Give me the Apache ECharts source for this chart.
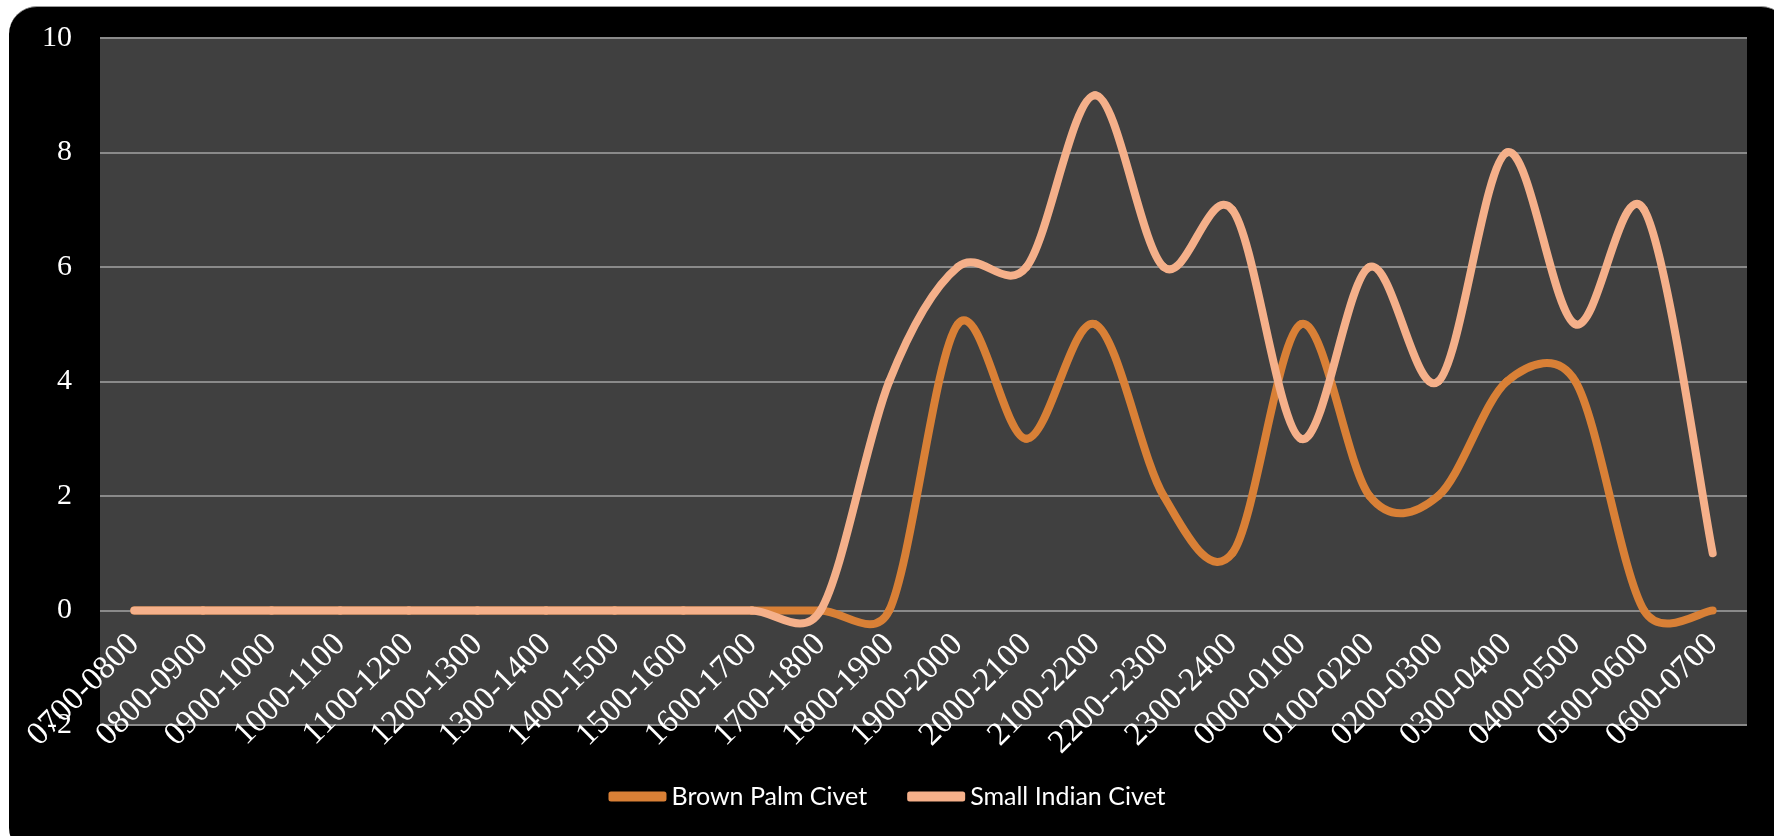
<!DOCTYPE html>
<html>
<head>
<meta charset="utf-8">
<script src="https://cdn.jsdelivr.net/npm/echarts@6/dist/echarts.min.js"></script>
<style>
  html, body { margin: 0; padding: 0; background: #ffffff; }
  #panel {
    position: absolute; left: 9px; top: 6px; width: 1780px; height: 850px;
    background: #000000; border-radius: 28px; border-top: 1px solid #9a9a9a;
    box-sizing: border-box;
  }
  #chart { position: absolute; left: 0; top: 0; width: 1774px; height: 836px; }
</style>
</head>
<body>
<div id="panel"></div>
<div id="chart"></div>
<script>
// Hourly activity counts of two civet species
const hours = [
  '0700-0800', '0800-0900', '0900-1000', '1000-1100', '1100-1200', '1200-1300',
  '1300-1400', '1400-1500', '1500-1600', '1600-1700', '1700-1800', '1800-1900',
  '1900-2000', '2000-2100', '2100-2200', '2200--2300', '2300-2400', '0000-0100',
  '0100-0200', '0200-0300', '0300-0400', '0400-0500', '0500-0600', '0600-0700'
];
const brownPalmCivet = [0, 0, 0, 0, 0, 0, 0, 0, 0, 0, 0, 0, 5, 3, 5, 2, 1, 5, 2, 2, 4, 4, 0, 0];
const smallIndianCivet = [0, 0, 0, 0, 0, 0, 0, 0, 0, 0, 0, 4, 6, 6, 9, 6, 7, 3, 6, 4, 8, 5, 7, 1];
const yTicks = { min: -2, max: 10, interval: 2 };

const serif = '"Liberation Serif", "Times New Roman", serif';
const LINE_WIDTH = 8;

// plot box
const GRID = { left: 100, right: 27, top: 38, bottom: 111 };
const CHART_H = 836;
// the category labels hang from the zero line rather than the bottom of the plot
const plotH = CHART_H - GRID.top - GRID.bottom;
const zeroOffset = -plotH * (0 - yTicks.min) / (yTicks.max - yTicks.min);

const chart = echarts.init(document.getElementById('chart'), null, { renderer: 'canvas' });

// Smoothed line: cubic Bezier segments whose handles follow the neighbouring
// points (1/6 of the chord), shortened to half the segment when they would be too long.
function smoothSegments(pts) {
  const n = pts.length;
  const segs = [];
  const dist = (a, b) => Math.hypot(b[0] - a[0], b[1] - a[1]);
  for (let i = 0; i < n - 1; i++) {
    const p0 = pts[Math.max(i - 1, 0)];
    const p1 = pts[i];
    const p2 = pts[i + 1];
    const p3 = pts[Math.min(i + 2, n - 1)];
    const d02 = dist(p0, p2), d12 = dist(p1, p2), d13 = dist(p1, p3);
    const f1 = d02 === 0 ? 0 : (d02 / 6 < d12 / 2 ? 1 / 6 : d12 / (2 * d02));
    const f2 = d13 === 0 ? 0 : (d13 / 6 < d12 / 2 ? 1 / 6 : d12 / (2 * d13));
    segs.push({
      x1: p1[0], y1: p1[1],
      cpx1: p1[0] + f1 * (p2[0] - p0[0]), cpy1: p1[1] + f1 * (p2[1] - p0[1]),
      cpx2: p2[0] - f2 * (p3[0] - p1[0]), cpy2: p2[1] - f2 * (p3[1] - p1[1]),
      x2: p2[0], y2: p2[1]
    });
  }
  return segs;
}

function curveSeries(name, values, color) {
  return {
    name: name,
    type: 'custom',
    coordinateSystem: 'cartesian2d',
    data: values.map((v, i) => [i, v]),
    encode: { x: 0, y: 1 },
    itemStyle: { color: color },
    renderItem: function (params, api) {
      if (params.dataIndex !== 0) return null;
      const pts = values.map((v, i) => api.coord([i, v]));
      return {
        type: 'group',
        children: smoothSegments(pts).map(s => ({
          type: 'bezierCurve',
          shape: s,
          style: { stroke: color, fill: null, lineWidth: LINE_WIDTH, lineCap: 'round', lineJoin: 'round' }
        }))
      };
    }
  };
}

chart.setOption({
  backgroundColor: 'transparent',
  animation: false,
  grid: {
    left: GRID.left, right: GRID.right, top: GRID.top, bottom: GRID.bottom,
    show: true, backgroundColor: '#404040', borderWidth: 0,
    containLabel: false, outerBoundsMode: 'none'
  },
  legend: {
    bottom: 22,
    left: 'center',
    icon: 'roundRect',
    itemWidth: 58,
    itemHeight: 10,
    itemGap: 40,
    textStyle: { color: '#ffffff', fontFamily: 'Lato, "Open Sans", sans-serif', fontSize: 25 },
    data: [
      { name: 'Brown Palm Civet', itemStyle: { color: '#D98036' } },
      { name: 'Small Indian Civet', itemStyle: { color: '#F5B08A' } }
    ]
  },
  xAxis: {
    type: 'category',
    data: hours,
    boundaryGap: true,
    position: 'bottom',
    offset: zeroOffset,
    axisLine: { show: false, onZero: false },
    axisTick: { show: false },
    splitLine: { show: false },
    axisLabel: {
      interval: 0,
      rotate: 45,
      margin: 29,
      color: '#ffffff',
      fontFamily: serif,
      fontSize: 33
    }
  },
  yAxis: {
    type: 'value',
    min: yTicks.min,
    max: yTicks.max,
    interval: yTicks.interval,
    axisLine: { show: false },
    axisTick: { show: false },
    splitLine: { show: true, lineStyle: { color: '#8a8a8a', width: 2 } },
    axisLabel: { color: '#ffffff', fontFamily: serif, fontSize: 30, margin: 28 }
  },
  series: [
    curveSeries('Brown Palm Civet', brownPalmCivet, '#D98036'),
    curveSeries('Small Indian Civet', smallIndianCivet, '#F5B08A')
  ]
});
</script>
</body>
</html>
